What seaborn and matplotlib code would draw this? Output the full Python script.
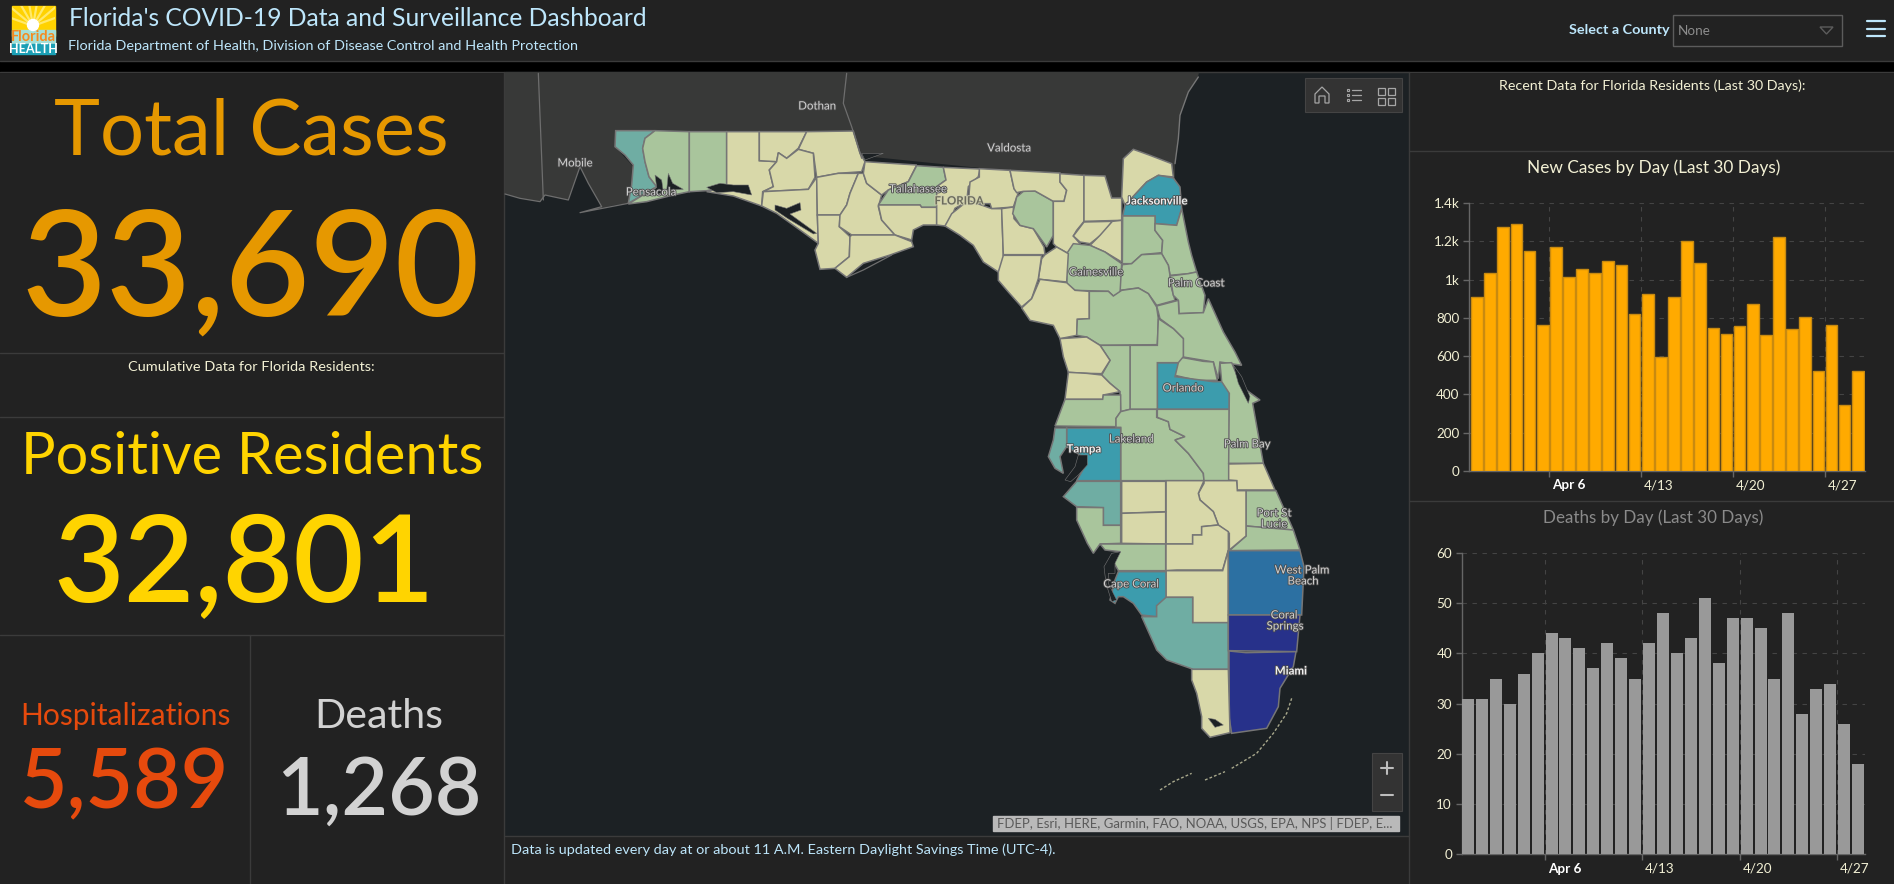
import matplotlib
matplotlib.use("Agg")
import matplotlib.pyplot as plt
import matplotlib.patheffects as pe
from matplotlib.patches import Circle, Polygon, Rectangle
from matplotlib.transforms import ScaledTranslation
import numpy as np
import pandas as pd
import seaborn as sns

# Chart data
new_cases = [910, 1035, 1275, 1290, 1150, 765, 1170, 1015, 1055, 1035, 1095, 1075, 820, 925, 595,
             910, 1200, 1085, 745, 715, 755, 870, 710, 1220, 740, 805, 520, 765, 345, 525]
deaths_by_day = [31, 31, 35, 30, 36, 40, 44, 43, 41, 37, 42, 39, 35, 42, 48,
                 40, 43, 51, 38, 47, 47, 45, 35, 48, 28, 33, 34, 26, 18]
week_labels = ["Apr 6", "4/13", "4/20", "4/27"]
week_ticks = [5.5, 12.5, 19.5, 26.5]
case_ticks = [0, 200, 400, 600, 800, 1000, 1200, 1400]
case_tick_labels = ["0", "200", "400", "600", "800", "1k", "1.2k", "1.4k"]
death_ticks = [0, 10, 20, 30, 40, 50, 60]

# Colours
BG = "#222222"
LINE = "#3b3b3b"
SEA = "#1c2124"
LAND = "#383938"
PALE = "#d8d8a9"
GREEN = "#a9c59c"
MINT = "#6fada3"
TEAL = "#3c9cad"
BLUE = "#2c70a2"
NAVY = "#27318a"
ORANGE = "#e69800"
YELLOW = "#ffd400"
RED = "#e64a0d"
LIGHT = "#d2d2d2"
SKY = "#bde6fb"
CREAM = "#f2f0d4"

W, H = 1894, 884

sns.set_style("dark")
plt.rcParams["font.family"] = ["Lato", "DejaVu Sans"]

fig = plt.figure(figsize=(W / 100, H / 100), dpi=100, facecolor=BG)
page = fig.add_axes([0, 0, 1, 1])
page.set_xlim(0, W)
page.set_ylim(H, 0)
page.axis("off")
page.set_facecolor(BG)


def px(size):
    return size * 0.72


def fit_text(txt, x0, x1, y, color, weight="normal"):
    # scale the font until the text spans x0..x1
    t = page.text((x0 + x1) / 2, y, txt, color=color, ha="center", va="center",
                  fontsize=40, fontweight=weight)
    r = fig.canvas.get_renderer()
    t.set_fontsize(40 * (x1 - x0) / t.get_window_extent(r).width)
    return t


# Header and panel frames
page.add_patch(Rectangle((0, 62), W, 10, color="black", zorder=1))
for y in [61, 72]:
    page.plot([0, W], [y, y], color=LINE, lw=1, zorder=2)
for y in [353, 417, 635]:
    page.plot([0, 504], [y, y], color=LINE, lw=1)
page.plot([250, 250], [635, H], color=LINE, lw=1)
page.plot([504, 504], [72, H], color=LINE, lw=1)
page.plot([1409, 1409], [72, H], color=LINE, lw=1)
page.plot([505, 1409], [836, 836], color=LINE, lw=1)
for y in [151, 501]:
    page.plot([1409, W], [y, y], color=LINE, lw=1)

# Logo
sky_rect = page.add_patch(Rectangle((12, 6), 43, 30, color="#ffd200", zorder=3))
for a in np.radians([200, 220, 240, 260, 280, 300, 320, 340]):
    ray = page.plot([33, 33 + 30 * np.cos(a)], [26, 26 + 30 * np.sin(a)], color="#ffe96a", lw=1.6, zorder=3)[0]
    ray.set_clip_path(sky_rect)
page.add_patch(Rectangle((12, 30), 43, 14, color="#a5dfd6", zorder=3))
page.add_patch(Circle((33, 25), 5.5, color="white", zorder=4))
page.add_patch(Rectangle((12, 44), 43, 10, color="#1b9fb5", zorder=3))
page.text(33.5, 37, "Florida", color="#f58a1f", fontsize=px(14.5), ha="center", va="center",
          fontweight="bold", zorder=5)
page.text(33.5, 49, "HEALTH", color="white", fontsize=px(12.5), ha="center", va="center",
          fontweight="bold", zorder=5)

fit_text("Florida's COVID-19 Data and Surveillance Dashboard", 69, 646, 19, SKY)
fit_text("Florida Department of Health, Division of Disease Control and Health Protection",
         69, 576, 46, SKY)
fit_text("Select a County", 1569, 1669, 30, SKY, "bold")
page.add_patch(Rectangle((1673, 15), 169, 31, fc="none", ec="#5c5c5c", lw=1))
page.text(1678, 31, "None", color="#8c8c8c", fontsize=px(13.5), va="center")
page.add_patch(Polygon([(1820, 27), (1833, 27), (1826.5, 34)], fc="none", ec="#5c5c5c", lw=1))
for y in [21, 29, 36]:
    page.plot([1867, 1885], [y, y], color=SKY, lw=1.6)

# KPI column
fit_text("Total Cases", 54, 449, 133, ORANGE)
fit_text("33,690", 22, 480, 274, ORANGE, "semibold")
fit_text("Cumulative Data for Florida Residents:", 129, 374, 367, CREAM)
fit_text("Positive Residents", 21, 483, 458, YELLOW)
fit_text("32,801", 54, 435, 568, YELLOW, "semibold")
fit_text("Hospitalizations", 20, 230, 716, RED)
fit_text("5,589", 20, 229, 785, RED, "semibold")
fit_text("Deaths", 314, 443, 716, LIGHT)
fit_text("1,268", 276, 481, 792, LIGHT, "semibold")

# Map: shapes are read in crop coordinates, each frame is (left, top) of the crop
FRAME_A = (500, 70)
FRAME_B = (860, 72)
FRAME_C = (1000, 340)
FRAME_D = (1160, 600)


def to_px(frame, pts):
    return [(frame[0] + x / 3, frame[1] + y / 3) for x, y in pts]


page.add_patch(Rectangle((505, 72), 904, 764, color=SEA, zorder=1))

land_outline = to_px(FRAME_A, [(15, 6), (2097, 6), (2094, 21), (2064, 66), (2040, 136), (2035, 206),
                               (2025, 281), (2025, 330), (1880, 400), (1800, 400), (1500, 300), (350, 182),
                               (345, 230), (400, 290), (395, 345), (385, 400), (345, 405), (240, 428), (305, 410),
                               (265, 340), (240, 290), (205, 390), (135, 375), (120, 395), (60, 385),
                               (15, 372)])
page.add_patch(Polygon(land_outline, fc=LAND, ec="none", zorder=2))

counties_a = [
    (MINT, [(347, 182), (465, 182), (435, 205), (428, 235), (435, 275), (447, 320), (470, 350), (385, 400),
            (395, 345), (400, 285), (375, 255), (345, 230)]),
    (GREEN, [(465, 182), (568, 185), (568, 365), (520, 375), (440, 395), (385, 402), (470, 350), (447, 320),
             (435, 275), (428, 235), (435, 205)]),
    (GREEN, [(568, 185), (680, 185), (680, 350), (620, 362), (568, 365)]),
    (PALE, [(680, 185), (778, 185), (778, 272), (830, 275), (808, 300), (820, 350), (788, 365), (785, 408),
            (700, 378), (620, 365), (680, 350)]),
    (PALE, [(778, 185), (920, 185), (895, 235), (860, 265), (835, 248), (830, 275), (778, 272)]),
    (PALE, [(920, 185), (1060, 183), (1080, 250), (1095, 275), (1085, 305), (1015, 310), (950, 322),
            (940, 250), (895, 238)]),
    (PALE, [(835, 248), (860, 265), (895, 238), (940, 250), (945, 322), (925, 358), (790, 365), (820, 350),
            (808, 300), (830, 275)]),
    (PALE, [(790, 365), (925, 358), (950, 322), (952, 435), (955, 520), (900, 480), (830, 430), (785, 408)]),
    (PALE, [(950, 322), (1015, 310), (1075, 310), (1050, 370), (1040, 405), (1020, 435), (952, 435)]),
    (PALE, [(952, 435), (1020, 435), (1018, 470), (1050, 500), (1048, 560), (1005, 595), (960, 598),
            (945, 540), (955, 520)]),
    (PALE, [(1075, 310), (1090, 310), (1100, 340), (1145, 375), (1135, 410), (1145, 450), (1185, 495),
            (1055, 495), (1018, 470), (1020, 435), (1040, 405), (1050, 370)]),
    (PALE, [(1095, 275), (1250, 285), (1225, 335), (1165, 360), (1145, 375), (1100, 340), (1090, 310)]),
    (GREEN, [(1250, 287), (1330, 292), (1338, 330), (1310, 350), (1310, 412), (1265, 412), (1260, 405),
             (1135, 405), (1165, 360), (1225, 335)]),
    (PALE, [(1135, 405), (1260, 405), (1265, 412), (1310, 412), (1310, 465), (1270, 465), (1240, 480),
            (1235, 510), (1185, 495), (1145, 450)]),
    (PALE, [(1055, 495), (1185, 495), (1235, 515), (1240, 530), (1170, 555), (1090, 580), (1040, 622),
            (1005, 595), (1048, 560), (1050, 500)]),
    (PALE, [(1330, 292), (1440, 297), (1435, 320), (1405, 350), (1400, 395), (1365, 415), (1355, 440),
            (1335, 468), (1310, 465), (1310, 350), (1338, 330)]),
]
counties_b = [
    (PALE, [(358, 290), (450, 295), (462, 350), (475, 362), (460, 405), (395, 410), (390, 395), (325, 395),
            (330, 330), (358, 315)]),
    (PALE, [(325, 385), (395, 410), (425, 410), (430, 550), (440, 550), (415, 600), (370, 570), (340, 520),
            (300, 490), (255, 462), (275, 425)]),
    (PALE, [(425, 410), (460, 405), (462, 440), (480, 460), (520, 470), (552, 525), (555, 548), (430, 548)]),
    (GREEN, [(490, 358), (525, 357), (580, 388), (580, 490), (560, 525), (520, 470), (480, 460), (458, 425),
             (470, 375)]),
    (PALE, [(450, 295), (600, 303), (600, 330), (620, 355), (612, 388), (580, 388), (525, 357), (490, 358),
            (470, 362), (462, 350)]),
    (PALE, [(600, 305), (672, 310), (672, 448), (650, 475), (640, 492), (660, 515), (625, 545), (590, 525),
            (580, 515), (580, 388), (612, 388), (620, 355), (600, 330)]),
    (PALE, [(672, 310), (735, 312), (755, 378), (785, 378), (785, 445), (672, 448)]),
    (PALE, [(672, 450), (757, 448), (735, 480), (690, 515), (660, 510), (640, 492)]),
    (PALE, [(757, 448), (785, 445), (785, 570), (735, 540), (690, 520), (720, 490)]),
    (PALE, [(790, 260), (820, 232), (870, 250), (935, 275), (940, 315), (895, 310), (860, 330), (795, 400),
            (785, 375)]),
    (TEAL, [(895, 310), (940, 318), (960, 345), (965, 410), (950, 460), (885, 455), (885, 432), (788, 432),
            (795, 400), (860, 330)]),
    (GREEN, [(788, 432), (885, 432), (885, 475), (908, 505), (905, 542), (845, 548), (815, 575), (787, 575)]),
    (GREEN, [(885, 455), (950, 460), (965, 410), (985, 510), (995, 550), (1010, 600), (985, 605), (930, 610),
             (925, 580), (905, 545), (908, 505), (885, 475)]),
    (GREEN, [(787, 578), (815, 575), (845, 548), (905, 545), (925, 580), (930, 610), (935, 650), (945, 685),
             (890, 700), (865, 665), (835, 648), (780, 655), (780, 620)]),
    (GREEN, [(930, 612), (985, 605), (1010, 600), (1035, 670), (1030, 722), (957, 725), (955, 685), (940, 670)]),
    (GREEN, [(620, 545), (640, 515), (690, 520), (735, 540), (785, 575), (780, 665), (760, 672), (745, 658),
             (645, 655), (620, 635)]),
    (PALE, [(555, 548), (590, 525), (625, 545), (620, 630), (540, 622), (535, 620), (545, 560)]),
    (PALE, [(430, 550), (545, 550), (535, 620), (515, 680), (485, 705), (445, 660), (415, 625), (415, 600)]),
    (PALE, [(540, 622), (620, 632), (645, 655), (688, 658), (688, 740), (652, 742), (650, 790), (600, 800),
            (580, 760), (510, 745), (485, 708), (515, 680)]),
    (GREEN, [(688, 658), (745, 658), (760, 672), (785, 655), (835, 648), (865, 665), (890, 705), (895, 740),
             (892, 818), (720, 820), (680, 795), (650, 790), (652, 742), (688, 740)]),
    (GREEN, [(890, 702), (955, 685), (957, 725), (1030, 722), (1045, 680), (1090, 780), (1125, 840), (1145, 880),
             (1080, 870), (1075, 920), (1060, 870), (1030, 865), (970, 855), (970, 800), (940, 770), (900, 740)]),
    (GREEN, [(958, 855), (1030, 868), (1060, 870), (1072, 925), (1010, 925), (945, 910), (945, 875)]),
]
counties_c = [
    (TEAL, [(472, 68), (535, 68), (525, 110), (640, 125), (670, 125), (688, 160), (688, 208), (472, 208)]),
    (GREEN, [(390, 16), (472, 16), (475, -64), (520, -34), (550, -4), (550, 50), (535, 68), (472, 68), (472, 208),
             (390, 208)]),
    (GREEN, [(300, 16), (390, 16), (390, 208), (362, 215), (360, 155), (330, 130), (305, 105), (330, 61)]),
    (PALE, [(180, -4), (260, -9), (300, 16), (330, 61), (305, 101), (260, 100), (205, 97), (190, 50)]),
    (PALE, [(205, 97), (260, 100), (305, 105), (330, 130), (360, 155), (310, 165), (308, 178), (195, 178)]),
    (GREEN, [(195, 178), (308, 178), (310, 165), (362, 165), (362, 215), (348, 235), (348, 260), (165, 258)]),
    (GREEN, [(348, 262), (348, 235), (362, 215), (390, 208), (470, 208), (470, 232), (505, 245), (510, 268),
             (555, 290), (525, 300), (565, 340), (610, 400), (612, 422), (362, 422), (362, 262)]),
    (GREEN, [(472, 208), (688, 208), (688, 422), (612, 422), (610, 400), (565, 340), (525, 300), (555, 290),
             (510, 268), (505, 245), (472, 232)]),
    (GREEN, [(660, 70), (695, 68), (725, 140), (780, 180), (758, 190), (790, 370), (686, 370), (688, 160),
             (665, 125)]),
    (PALE, [(686, 372), (790, 370), (825, 450), (712, 450), (710, 422), (686, 420)]),
    (GREEN, [(738, 452), (828, 452), (880, 570), (738, 558)]),
    (GREEN, [(738, 558), (880, 570), (900, 630), (688, 632), (738, 588)]),
    (PALE, [(612, 422), (710, 422), (712, 452), (738, 452), (738, 588), (688, 630), (688, 580), (655, 555),
            (640, 515), (600, 480), (595, 460), (612, 430)]),
    (PALE, [(498, 422), (612, 422), (595, 460), (600, 480), (640, 515), (655, 555), (605, 560), (605, 585),
            (578, 585), (578, 612), (498, 612)]),
    (PALE, [(365, 424), (497, 424), (497, 515), (365, 520)]),
    (PALE, [(365, 520), (497, 516), (497, 612), (365, 610)]),
    (MINT, [(230, 424), (362, 424), (362, 556), (310, 556), (310, 503), (230, 500), (190, 470)]),
    (GREEN, [(230, 502), (310, 503), (310, 556), (362, 556), (362, 610), (300, 612), (280, 640), (262, 610),
             (230, 540)]),
    (GREEN, [(300, 612), (385, 612), (497, 612), (497, 692), (355, 692), (340, 665), (360, 635), (315, 630)]),
    (PALE, [(498, 612), (578, 612), (578, 585), (605, 585), (605, 560), (655, 555), (685, 575), (685, 630),
            (668, 690), (530, 690), (498, 692)]),
    (PALE, [(498, 692), (668, 692), (685, 632), (685, 848), (578, 848), (578, 772), (498, 772)]),
    (TEAL, [(355, 695), (498, 695), (498, 795), (470, 797), (470, 830), (425, 825), (400, 790), (370, 770),
            (355, 770), (345, 790), (330, 780), (345, 720)]),
    (MINT, [(498, 772), (578, 772), (578, 848), (685, 848), (685, 988), (580, 988), (500, 960), (470, 930),
            (425, 830), (470, 830), (470, 797)]),
    (TEAL, [(200, 264), (362, 264), (362, 422), (230, 422), (260, 370), (240, 345), (200, 320)]),
    (MINT, [(165, 264), (200, 264), (200, 320), (180, 350), (190, 400), (165, 385), (145, 350), (160, 300)]),
    (BLUE, [(685, 632), (900, 632), (912, 680), (905, 825), (685, 825)]),
]
counties_d = [
    (NAVY, [(205, 45), (420, 45), (410, 155), (205, 152)]),
    (NAVY, [(207, 153), (258, 158), (408, 155), (400, 200), (360, 265), (355, 320), (320, 385), (215, 400),
            (207, 350)]),
    (PALE, [(95, 208), (205, 208), (210, 398), (150, 412), (125, 385), (125, 350), (110, 280), (95, 240)]),
]
for frame, shapes in [(FRAME_A, counties_a), (FRAME_B, counties_b), (FRAME_C, counties_c), (FRAME_D, counties_d)]:
    for color, pts in shapes:
        page.add_patch(Polygon(to_px(frame, pts), fc=color, ec="#767676", lw=1.1, zorder=3))

# Bays cut back out of the land
bays_a = [[(465, 315), (485, 330), (490, 365), (470, 375), (440, 378), (470, 352)],
          [(505, 310), (518, 340), (550, 358), (500, 360)],
          [(620, 352), (660, 340), (700, 345), (745, 345), (755, 375), (700, 365), (650, 368)],
          [(825, 405), (860, 415), (900, 398), (903, 420), (870, 432), (950, 490), (940, 492), (862, 445),
           (825, 420)],
          [(1085, 250), (1150, 250), (1095, 270)]]
bays_c = [[(235, 345), (262, 345), (262, 375), (235, 405), (212, 425), (195, 420), (225, 380)],
          [(335, 640), (362, 635), (345, 670), (345, 700), (325, 700), (325, 730), (350, 780), (335, 785),
           (318, 730), (312, 680)],
          [(700, 75), (725, 110), (750, 170), (745, 190), (715, 130)]]
bays_d = [[(145, 355), (165, 358), (190, 375), (165, 382)]]
for frame, shapes in [(FRAME_A, bays_a), (FRAME_C, bays_c), (FRAME_D, bays_d)]:
    for pts in shapes:
        page.add_patch(Polygon(to_px(frame, pts), fc=SEA, ec="#767676", lw=0.4, zorder=4))

# Boundaries on land, islands and keys
thin_a = [[(115, 10), (130, 390)], [(1040, 10), (1030, 100), (1055, 170), (1085, 265)],
          [(15, 372), (60, 385), (120, 395), (135, 375), (205, 390), (240, 290), (265, 340), (305, 410), (240, 428),
           (385, 400)],
          [(1040, 622), (1090, 600), (1175, 555)]]
for pts in thin_a:
    xy = np.array(to_px(FRAME_A, pts))
    page.plot(xy[:, 0], xy[:, 1], color="#6e6e6e", lw=0.9, zorder=4)
keys_d = [[(0, 570), (40, 545), (95, 520)], [(135, 540), (195, 515)],
          [(215, 505), (290, 460), (340, 400), (380, 340), (395, 295)]]
for pts in keys_d:
    xy = np.array(to_px(FRAME_D, pts))
    page.plot(xy[:, 0], xy[:, 1], color="#a8a88c", lw=1, ls=(0, (2, 1.5)), zorder=4)
islands_b = [[(1015, 15), (985, 60), (960, 130), (955, 200), (945, 275)]]
for pts in islands_b:
    xy = np.array(to_px(FRAME_B, pts))
    page.plot(xy[:, 0], xy[:, 1], color="#777777", lw=1, zorder=4)

city_labels = [("Mobile", 575, 163, False), ("Dothan", 817, 106, False), ("Valdosta", 1009, 148, False),
               ("Pensacola", 651, 192, False), ("Tallahassee", 918, 189, False), ("Jacksonville", 1157, 201, True),
               ("Gainesville", 1096, 272, False), ("Palm Coast", 1196, 283, False), ("Orlando", 1183, 388, False),
               ("Lakeland", 1131, 439, False), ("Tampa", 1084, 449, True), ("Palm Bay", 1247, 444, False),
               ("Port St", 1274, 513, False), ("Lucie", 1274, 524, False), ("West Palm", 1302, 570, False),
               ("Beach", 1303, 581, False), ("Cape Coral", 1131, 584, False), ("Coral", 1284, 615, False),
               ("Springs", 1285, 626, False), ("Miami", 1291, 671, True)]
for name, x, y, strong in city_labels:
    page.text(x, y, name, color="#f0f0f0" if strong else "#d0d0d0", fontsize=px(11.5), ha="center", va="center",
              fontweight="bold" if strong else "normal", zorder=6,
              path_effects=[pe.withStroke(linewidth=1.2, foreground="#4a4a4a")])
page.text(959, 201, "FLORIDA", color="#6b6b5c", fontsize=px(11.5), ha="center", va="center", fontweight="bold",
          zorder=6, path_effects=[pe.withStroke(linewidth=1.2, foreground="#d0d0b0")])

# Map widgets
page.add_patch(Rectangle((1305, 78), 97, 34, fc="#333333", ec="#444444", lw=0.8, zorder=6))
page.add_patch(Polygon([(1315, 103), (1315, 94), (1322, 87), (1329, 94), (1329, 103), (1325, 103), (1325, 96),
                        (1319, 96), (1319, 103)], fc="none", ec="#a6a6a6", lw=0.9, zorder=7))
for y in [90, 95, 100]:
    page.add_patch(Rectangle((1347, y - 1), 2, 2, fc="none", ec="#a6a6a6", lw=0.8, zorder=7))
    page.plot([1352, 1361], [y, y], color="#a6a6a6", lw=0.9, zorder=7)
for x in [1378, 1388]:
    for y in [88, 98]:
        page.add_patch(Rectangle((x, y), 7, 7, fc="none", ec="#a6a6a6", lw=0.9, zorder=7))
page.add_patch(Rectangle((1372, 753), 30, 58, fc="#333333", ec="#444444", lw=0.8, zorder=6))
page.plot([1381, 1393], [768, 768], color="#bdbdbd", lw=1.5, zorder=7)
page.plot([1387, 1387], [762, 774], color="#bdbdbd", lw=1.5, zorder=7)
page.plot([1381, 1393], [795, 795], color="#bdbdbd", lw=1.5, zorder=7)

page.add_patch(Rectangle((993, 816), 406, 15, color="#b9b9b9", zorder=6))
t = fit_text("FDEP, Esri, HERE, Garmin, FAO, NOAA, USGS, EPA, NPS | FDEP, E...", 997, 1392, 823.5, "#5a5a5a")
t.set_zorder(7)
fit_text("Data is updated every day at or about 11 A.M. Eastern Daylight Savings Time (UTC-4).",
         511, 1056, 850, SKY)

# Right column text
fit_text("Recent Data for Florida Residents (Last 30 Days):", 1499, 1806, 86, CREAM)
fit_text("New Cases by Day (Last 30 Days)", 1527, 1780, 168, CREAM)
fit_text("Deaths by Day (Last 30 Days)", 1543, 1764, 518, "#8a8a8a")


def bar_panel(x0, x1, y0, y1, values, color, edge, width, xlim, ylim, yticks, ylabels):
    ax = fig.add_axes([x0 / W, 1 - y1 / H, (x1 - x0) / W, (y1 - y0) / H])
    ax.set_facecolor(BG)
    days = pd.date_range("2020-03-31", periods=len(values)).strftime("%m/%d")
    sns.barplot(x=list(days), y=values, color=color, saturation=1, width=width, edgecolor=edge,
                linewidth=1 if edge != "none" else 0, ax=ax, zorder=3)
    ax.set_xlim(*xlim)
    ax.set_ylim(*ylim)
    ax.set_xlabel("")
    ax.set_ylabel("")
    ax.set_yticks(yticks, ylabels)
    ax.set_xticks(week_ticks, week_labels, ha="left")
    ax.grid(True, color="#444444", ls=(0, (4, 5)), lw=0.8, zorder=0)
    ax.set_axisbelow(True)
    for s in ["top", "right"]:
        ax.spines[s].set_visible(False)
    for s in ["left", "bottom"]:
        ax.spines[s].set_color("#666666")
        ax.spines[s].set_linewidth(1)
    ax.tick_params(axis="y", length=4, width=1, color="#666666", labelcolor=CREAM, labelsize=px(13.5), pad=3, left=True)
    ax.tick_params(axis="x", length=4, width=1, color="#666666", labelcolor=CREAM, labelsize=px(13.5), pad=2, bottom=True)
    shift = ScaledTranslation(3 / 100, 0, fig.dpi_scale_trans)
    for lab in ax.get_xticklabels():
        lab.set_transform(lab.get_transform() + shift)
    ax.get_xticklabels()[0].set_fontweight("bold")
    ax.get_xticklabels()[0].set_color("white")
    return ax


bar_panel(1469, 1865, 203, 471, new_cases, "#ffaa00", "#c88a10", 0.89, (-0.61, 29.55), (0, 1400),
          case_ticks, case_tick_labels)
bar_panel(1461.7, 1865, 553, 854.3, deaths_by_day, "#999999", "none", 0.86, (-0.45, 28.5), (0, 60),
          death_ticks, [str(v) for v in death_ticks])

plt.savefig("out.png", dpi=100, facecolor=BG)
